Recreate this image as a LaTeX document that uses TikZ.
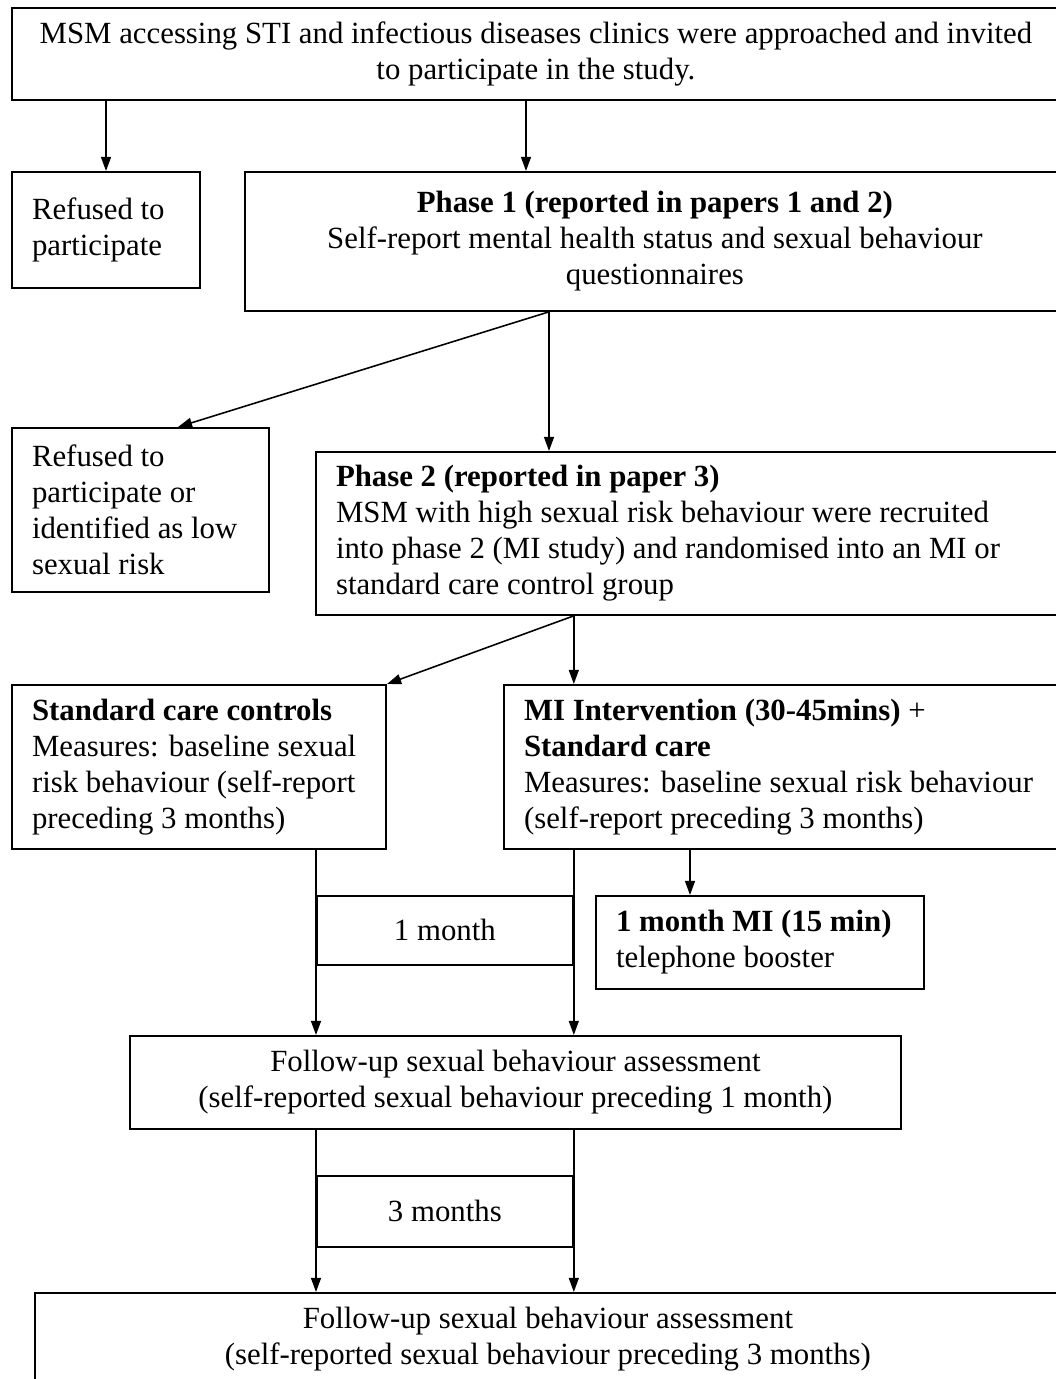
\documentclass[tikz,border=0pt]{standalone}
\usepackage{fontspec}
\setmainfont{Liberation Serif}
\usetikzlibrary{arrows.meta}
\def\pxu{0.383pt}
\tikzset{
  box/.style={draw, line width=0.7pt, anchor=north west, inner sep=0pt, align=center,
    font=\fontsize{11.8}{13.8}\selectfont},
  lbox/.style={box, align=flush left, inner xsep=7.7pt},
  arr/.style={-{Triangle[length=5.4pt,width=3.8pt]}, line width=0.6pt},
}
\begin{document}
\begin{tikzpicture}[x=\pxu, y=-\pxu]
\useasboundingbox (0,0) rectangle (1056,1379);
\clip (0,0) rectangle (1056,1379);
%%   kw   (name)   (x, y)   {text}
    \node[box, minimum width=1048*\pxu, minimum height=92*\pxu] (top) at (11,7)
        {MSM accessing STI and infectious diseases clinics were approached and invited\\ to participate in the study.};
    \node[lbox, text width=148*\pxu, minimum width=188*\pxu, minimum height=116*\pxu] (ref1) at (11,171)
        {Refused to\\ participate};
    \node[box, minimum width=820*\pxu, minimum height=139*\pxu] (ph1) at (244,171)
        {\textbf{Phase 1 (reported in papers 1 and 2)}\\ Self-report mental health status and sexual behaviour\\ questionnaires};
    \node[lbox, text width=217*\pxu, minimum width=257*\pxu, minimum height=164*\pxu] (ref2) at (11,427)
        {Refused to\\ participate or\\ identified as low\\ sexual risk};
    \node[lbox, text width=709*\pxu, minimum width=749*\pxu, minimum height=163*\pxu] (ph2) at (315,451)
        {\textbf{Phase 2 (reported in paper 3)}\\ MSM with high sexual risk behaviour were recruited\\ into phase 2 (MI study) and randomised into an MI or\\ standard care control group};
    \node[lbox, text width=334*\pxu, minimum width=374*\pxu, minimum height=164*\pxu] (std) at (11,684)
        {\textbf{Standard care controls}\\ Measures: baseline sexual\\ risk behaviour (self-report\\ preceding 3 months)};
    \node[lbox, text width=521*\pxu, minimum width=561*\pxu, minimum height=164*\pxu] (mi) at (503,684)
        {\textbf{MI Intervention (30-45mins)} +\\ \textbf{Standard care}\\ Measures: baseline sexual risk behaviour\\ (self-report preceding 3 months)};
    \node[box, minimum width=256*\pxu, minimum height=69*\pxu] (mon1) at (316,895) {1 month};
    \node[lbox, text width=288*\pxu, minimum width=328*\pxu, minimum height=93*\pxu] (boost) at (595,895)
        {\textbf{1 month MI (15 min)}\\ telephone booster};
    \node[box, minimum width=771*\pxu, minimum height=93*\pxu] (fu1) at (129,1035)
        {Follow-up sexual behaviour assessment\\ (self-reported sexual behaviour preceding 1 month)};
    \node[box, minimum width=256*\pxu, minimum height=71*\pxu] (mon3) at (316,1175) {3 months};
    \node[box, minimum width=1026*\pxu, minimum height=93*\pxu] (fu2) at (34,1292)
        {Follow-up sexual behaviour assessment\\ (self-reported sexual behaviour preceding 3 months)};

%% where the arrows leave and meet the boxes
    \coordinate (xa) at (526,0);
    \coordinate (xb) at (549,0);
    \coordinate (xc) at (178,0);
    \coordinate (xd) at (690,0);

    \draw[arr] (ref1.north |- top.south) -- (ref1.north);
    \draw[arr] (top.south -| xa) -- (ph1.north -| xa);
    \draw[arr] (ph1.south -| xb) -- (ref2.north -| xc);
    \draw[arr] (ph1.south -| xb) -- (ph2.north -| xb);
    \draw[arr] (ph2.south -| mon1.east) -- (std.north east);
    \draw[arr] (ph2.south -| mon1.east) -- (mi.north -| mon1.east);
    \draw[arr] (std.south -| mon1.west) -- (fu1.north -| mon1.west);
    \draw[arr] (mi.south -| mon1.east) -- (fu1.north -| mon1.east);
    \draw[arr] (mi.south -| xd) -- (boost.north -| xd);
    \draw[arr] (fu1.south -| mon3.west) -- (fu2.north -| mon3.west);
    \draw[arr] (fu1.south -| mon3.east) -- (fu2.north -| mon3.east);
\end{tikzpicture}
\end{document}
